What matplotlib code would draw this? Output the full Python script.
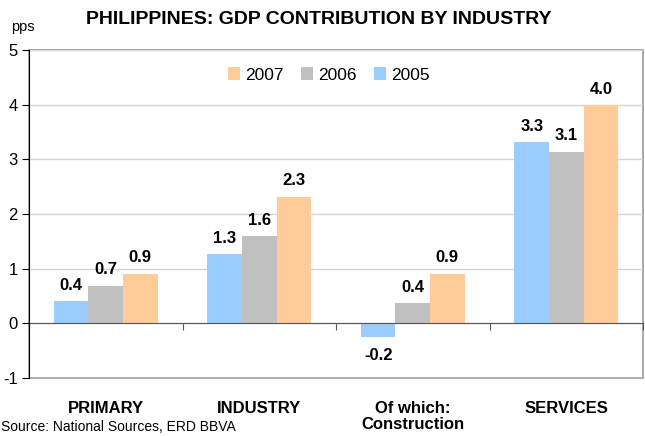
import numpy as np
import matplotlib.pyplot as plt
from matplotlib.patches import Rectangle

plt.rcParams['font.family'] = ['Liberation Sans', 'DejaVu Sans']
plt.rcParams['axes.unicode_minus'] = False

categories = ["PRIMARY", "INDUSTRY", "Of which:\nConstruction", "SERVICES"]
years = ["2005", "2006", "2007"]
v2005 = [0.40, 1.26, -0.25, 3.31]
v2006 = [0.69, 1.59, 0.37, 3.14]
v2007 = [0.91, 2.32, 0.91, 3.99]
labels2005 = ["0.4", "1.3", "-0.2", "3.3"]
labels2006 = ["0.7", "1.6", "0.4", "3.1"]
labels2007 = ["0.9", "2.3", "0.9", "4.0"]
colors = ["#99CCFF", "#C0C0C0", "#FFCC99"]

fig = plt.figure(figsize=(6.45, 4.36), dpi=100)
ax = fig.add_axes([29 / 645, 58 / 436, 614 / 645, 328 / 436])

x = np.arange(len(categories))
w = 0.225
series = [v2005, v2006, v2007]
labs = [labels2005, labels2006, labels2007]
for i, (vals, lab, c, yr) in enumerate(zip(series, labs, colors, years)):
    b = ax.bar(x + (i - 1) * w, vals, w, color=c, label=yr, zorder=3)
    for rect, v, t in zip(b, vals, lab):
        cx = rect.get_x() + rect.get_width() / 2
        if v >= 0:
            ax.annotate(t, (cx, v), xytext=(0, 6), textcoords='offset points',
                        ha='center', va='bottom', fontsize=12, fontweight='bold')
        else:
            ax.annotate(t, (cx, v), xytext=(0, -8), textcoords='offset points',
                        ha='center', va='top', fontsize=12, fontweight='bold')

ax.set_xlim(-0.5, len(categories) - 0.5)
ax.set_ylim(-1, 5)
ax.set_yticks(range(-1, 6))
ax.tick_params(axis='y', labelsize=12, length=5, width=0.8, pad=3)
ax.yaxis.grid(True, color='#D4D4D4', linewidth=1, zorder=0)

# category axis sits on zero
ax.spines['bottom'].set_position(('data', 0))
ax.spines['bottom'].set_color('#555555')
ax.spines['bottom'].set_zorder(4)
ax.set_xticks(np.arange(len(categories) + 1) - 0.5)
ax.set_xticklabels([])
ax.tick_params(axis='x', length=5, color='#555555', direction='out')
for s in ['top', 'right']:
    ax.spines[s].set_visible(False)
ax.add_patch(Rectangle((0, 0), 1, 1, transform=ax.transAxes, fill=False,
                       edgecolor='#999999', linewidth=1.2, clip_on=False, zorder=1))
ax.spines['left'].set_zorder(5)

for xi, cat in zip(x, categories):
    ax.text(xi, -0.07, cat, transform=ax.get_xaxis_transform(), ha='center', va='top',
            fontsize=12, fontweight='bold', linespacing=1.05)

h, l = ax.get_legend_handles_labels()
fig.legend(h[::-1], l[::-1], loc='center', bbox_to_anchor=(0.51, 1 - 75 / 436), ncol=3,
           frameon=False, fontsize=12.5, handlelength=0.7, handleheight=0.7,
           handletextpad=0.3, columnspacing=1.0)

fig.text(319 / 645, 1 - 19 / 436, "PHILIPPINES: GDP CONTRIBUTION BY INDUSTRY", ha='center',
         va='center', fontsize=14, fontweight='bold')
fig.text(11 / 645, 1 - 27 / 436, "pps", ha='left', va='center', fontsize=10.5)
fig.text(0.002, 0.004, "Source: National Sources, ERD BBVA", ha='left', va='bottom', fontsize=10)

fig.savefig("out.png", dpi=100)
